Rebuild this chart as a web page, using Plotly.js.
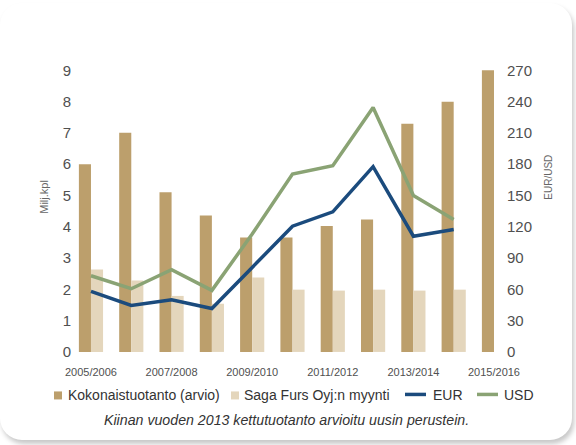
<!DOCTYPE html>
<html>
<head>
<meta charset="utf-8">
<script src="https://cdn.plot.ly/plotly-3.0.1.min.js"></script>
<style>
  html, body { margin:0; padding:0; background:#ffffff; }
  #wrap { position:relative; width:576px; height:445px; overflow:hidden; }
  #card { position:absolute; left:0; top:3px; width:572px; height:437px; background:#fff;
          border-radius:22px; box-shadow: 2px 4px 5px rgba(0,0,0,0.22); }
  #chart { position:absolute; left:0; top:0; width:576px; height:445px; }
</style>
</head>
<body>
<div id="wrap">
  <div id="card"></div>
  <div id="chart"></div>
</div>
<script>
// ---- data ----
const categories = ['2005/2006','2006/2007','2007/2008','2008/2009','2009/2010','2010/2011',
                    '2011/2012','2012/2013','2013/2014','2014/2015','2015/2016'];
const tickLabels = ['2005/2006','2007/2008','2009/2010','2011/2012','2013/2014','2015/2016'];
const kokonaistuotanto = [6.0, 7.0, 5.1, 4.36, 3.66, 3.66, 4.02, 4.23, 7.29, 7.99, 9.0];
const sagaFursMyynti   = [2.63, 2.28, 1.79, 1.54, 2.38, 1.99, 1.96, 1.99, 1.96, 1.99, null];
const eurPrice = [58, 44.5, 50, 41.6, 81, 120.5, 134.3, 177.6, 110.9, 117.3, null];
const usdPrice = [73, 60.6, 78.8, 59, 113, 170.5, 178.5, 234.3, 150, 127, null];
const leftTicks  = [0,1,2,3,4,5,6,7,8,9];
const rightTicks = [0,30,60,90,120,150,180,210,240,270];
const seriesNames = ['Kokonaistuotanto (arvio)', 'Saga Furs Oyj:n myynti', 'EUR', 'USD'];
const caption = 'Kiinan vuoden 2013 kettutuotanto arvioitu uusin perustein.';

// ---- style ----
const C_DARK = '#BC9F6C', C_LIGHT = '#E4D6BC', C_EUR = '#1B4B7D', C_USD = '#8AA374';
const FONT = '"Liberation Sans", Arial, Helvetica, sans-serif';
const TXT = '#505050';

const W = 576, H = 445;
const L = 72, R = 70, T = 64.4, BOT = 356.1;
const plotW = W - L - R, plotH = BOT - T;
const px = v => (v - L) / plotW;
const py = v => (BOT - v) / plotH;

const traces = [
  { type:'bar', name:seriesNames[0], x:categories, y:kokonaistuotanto,
    marker:{color:C_DARK}, showlegend:false },
  { type:'bar', name:seriesNames[1], x:categories, y:sagaFursMyynti,
    marker:{color:C_LIGHT}, showlegend:false },
  { type:'scatter', mode:'lines', name:seriesNames[3], x:categories, y:usdPrice, yaxis:'y2',
    line:{color:C_USD, width:3.5}, showlegend:false },
  { type:'scatter', mode:'lines', name:seriesNames[2], x:categories, y:eurPrice, yaxis:'y2',
    line:{color:C_EUR, width:3.5}, showlegend:false }
];

const legY = 395.5;
const shapes = [
  { type:'rect', xref:'paper', yref:'paper', x0:px(54), x1:px(62), y0:py(legY-4), y1:py(legY+4),
    fillcolor:C_DARK, line:{width:0} },
  { type:'rect', xref:'paper', yref:'paper', x0:px(231), x1:px(239), y0:py(legY-4), y1:py(legY+4),
    fillcolor:C_LIGHT, line:{width:0} },
  { type:'line', xref:'paper', yref:'paper', x0:px(405), x1:px(426), y0:py(legY-1), y1:py(legY-1),
    line:{color:C_EUR, width:3.5} },
  { type:'line', xref:'paper', yref:'paper', x0:px(477), x1:px(498), y0:py(legY-1), y1:py(legY-1),
    line:{color:C_USD, width:3.5} }
];

const legText = (t, x) => ({ text:t, xref:'paper', yref:'paper', x:px(x), y:py(legY),
  xanchor:'left', yanchor:'middle', showarrow:false, font:{family:FONT, size:14, color:'#333'} });

const annotations = [
  legText(seriesNames[0], 66),
  legText(seriesNames[1], 242),
  legText(seriesNames[2], 431),
  legText(seriesNames[3], 502),
  { text:'<i>'+caption+'</i>', xref:'paper', yref:'paper', x:px(286), y:py(420),
    xanchor:'center', yanchor:'middle', showarrow:false, font:{family:FONT, size:14.2, color:'#333'} },
  { text:'Milj.kpl', xref:'paper', yref:'paper', x:px(44), y:py(197), textangle:-90,
    xanchor:'center', yanchor:'middle', showarrow:false, font:{family:FONT, size:11, color:'#666'} },
  { text:'EUR/USD', xref:'paper', yref:'paper', x:px(549), y:py(178), textangle:-90,
    xanchor:'center', yanchor:'middle', showarrow:false, font:{family:FONT, size:10, color:'#666'} }
];

const layout = {
  width:W, height:H,
  margin:{l:L, r:R, t:T, b:H-BOT, pad:0},
  paper_bgcolor:'rgba(0,0,0,0)', plot_bgcolor:'rgba(0,0,0,0)',
  barmode:'group', bargap:0.4, bargroupgap:0,
  showlegend:false,
  font:{family:FONT, color:TXT},
  xaxis:{ type:'category', categoryorder:'array', categoryarray:categories,
    range:[-0.471, 10.298], tickvals:tickLabels, ticktext:tickLabels,
    showgrid:false, zeroline:false, showline:false, ticks:'',
    tickfont:{family:FONT, size:11, color:TXT}, ticklabelstandoff:8, automargin:false },
  yaxis:{ range:[-0.13, 9.2], tickvals:leftTicks, showgrid:false, zeroline:false,
    showline:false, ticks:'', tickfont:{family:FONT, size:15, color:TXT}, automargin:false },
  yaxis2:{ range:[-3.9, 276], tickvals:rightTicks, overlaying:'y', side:'right',
    showgrid:false, zeroline:false, showline:false, ticks:'',
    tickfont:{family:FONT, size:15, color:TXT}, automargin:false },
  shapes:shapes, annotations:annotations
};

Plotly.newPlot('chart', traces, layout, {staticPlot:true, displayModeBar:false});
</script>
</body>
</html>
